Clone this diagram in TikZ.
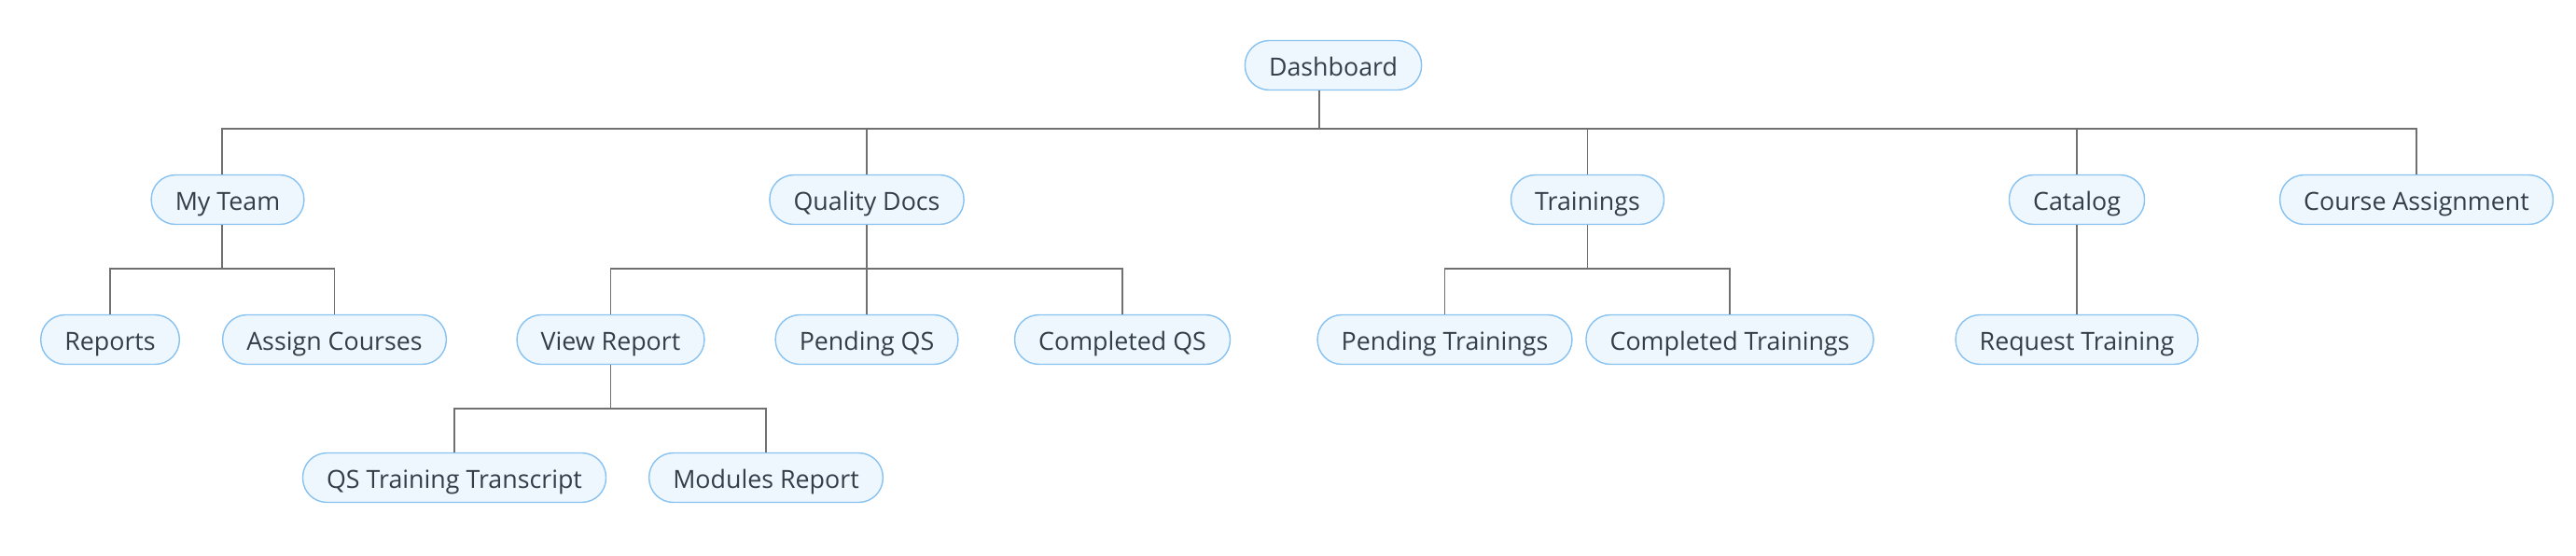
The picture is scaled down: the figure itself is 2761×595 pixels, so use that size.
\documentclass[tikz,border=0pt]{standalone}
\usepackage{fontspec}
\setmainfont{Open Sans}
\definecolor{topicfill}{RGB}{238,246,254}
\definecolor{topicline}{RGB}{135,194,240}
\definecolor{topictext}{RGB}{52,62,72}
\definecolor{branchline}{RGB}{112,112,112}
\tikzset{every picture/.style={line width=0.75pt}}
\tikzset{
  topic/.style={draw=topicline, fill=topicfill, text=topictext, line width=0.7pt,
    rounded corners=13pt, minimum height=26.5pt, inner xsep=12.8pt,
    text height=11pt, text depth=0pt,
    font=\fontsize{13.4pt}{15pt}\selectfont},
  branch/.style={draw=branchline, line width=0.85pt}
}

\begin{document}
\begin{tikzpicture}[x=0.5pt,y=0.5pt,yscale=-1,xscale=1]
\useasboundingbox (0,0) rectangle (2761,595);

% bar coordinates
\coordinate (b0) at (1414,138);
\coordinate (b1) at (238,288);
\coordinate (b2) at (929,288);
\coordinate (b3) at (1701.5,288);
\coordinate (b4) at (654.5,438);

% Topics
\path (1429,70) node[topic] (dash) {Dashboard};
\path (244,214) node[topic] (myteam) {My Team};
\path (929,214) node[topic] (qdocs) {Quality Docs};
\path (1701.5,214) node[topic] (train) {Trainings};
\path (2226,214) node[topic] (catalog) {Catalog};
\path (2590,214) node[topic] (cassign) {Course Assignment};

\path (118,364) node[topic] (reports) {Reports};
\path (358.5,364) node[topic] (acourses) {Assign Courses};
\path (654.5,364) node[topic] (viewrep) {View Report};
\path (929,364) node[topic] (pendqs) {Pending QS};
\path (1203,364) node[topic] (compqs) {Completed QS};
\path (1548.5,364) node[topic] (pendtr) {Pending Trainings};
\path (1854,364) node[topic] (comptr) {Completed Trainings};
\path (2226,364) node[topic] (reqtr) {Request Training};

\path (487,512) node[topic] (qstrans) {QS Training Transcript};
\path (821,512) node[topic] (modrep) {Modules Report};

% Dashboard
\draw[branch] (dash.south -| b0) -- (b0);
\draw[branch] (b0) -| (myteam.north -| b1);
\foreach \c in {qdocs,train,catalog,cassign}
  \draw[branch] (b0) -| (\c.north);

% My Team
\draw[branch] (myteam.south -| b1) -- (b1);
\foreach \c in {reports,acourses}
  \draw[branch] (b1) -| (\c.north);

% Quality Docs
\draw[branch] (qdocs.south) -- (b2);
\foreach \c in {viewrep,pendqs,compqs}
  \draw[branch] (b2) -| (\c.north);

% Trainings
\draw[branch] (train.south) -- (b3);
\foreach \c in {pendtr,comptr}
  \draw[branch] (b3) -| (\c.north);

% Catalog
\draw[branch] (catalog.south) -- (reqtr.north);

% View Report
\draw[branch] (viewrep.south) -- (b4);
\foreach \c in {qstrans,modrep}
  \draw[branch] (b4) -| (\c.north);

\end{tikzpicture}
\end{document}
